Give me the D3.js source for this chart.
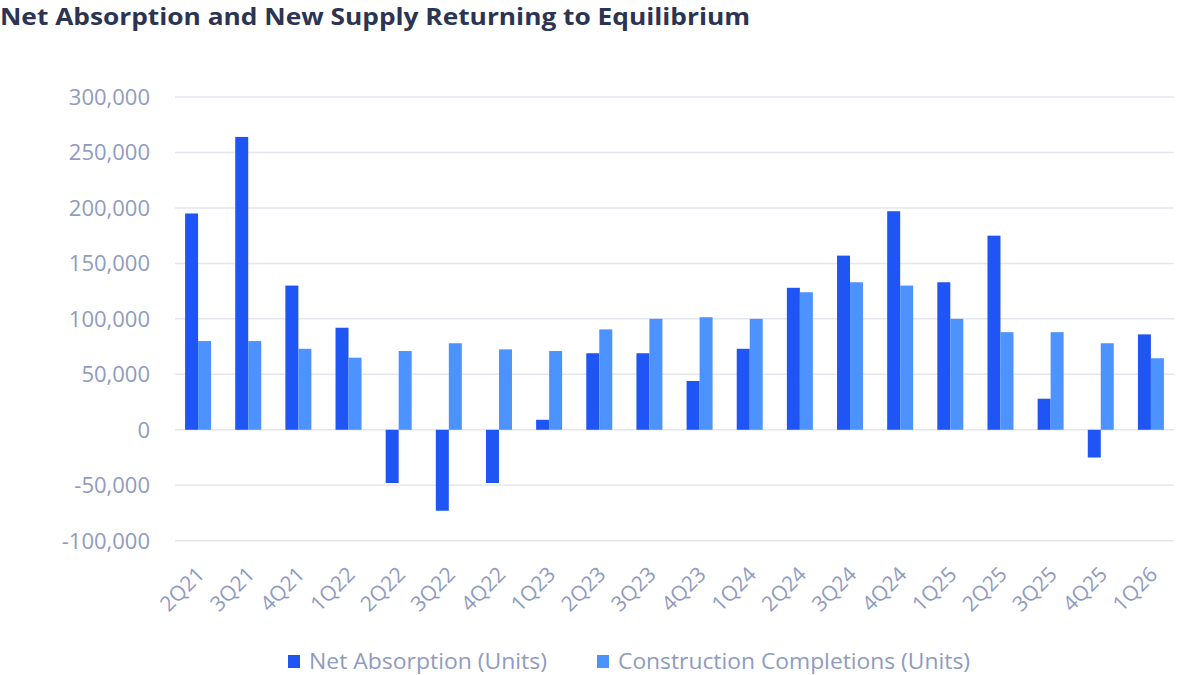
<!DOCTYPE html>
<html>
<head>
<meta charset="utf-8">
<script src="https://cdn.jsdelivr.net/npm/d3@7"></script>
<style>
  html, body { margin: 0; padding: 0; background: #ffffff; }
  svg { display: block; font-family: "Open Sans", sans-serif; }
</style>
</head>
<body>
<svg id="chart" width="1200" height="675"></svg>
<script>
const title = "Net Absorption and New Supply Returning to Equilibrium";
const categories = ["2Q21","3Q21","4Q21","1Q22","2Q22","3Q22","4Q22","1Q23","2Q23","3Q23","4Q23","1Q24","2Q24","3Q24","4Q24","1Q25","2Q25","3Q25","4Q25","1Q26"];
const netAbsorption = [195000, 264000, 130000, 92000, -48000, -73000, -48000, 9000, 69000, 69000, 44000, 73000, 128000, 157000, 197000, 133000, 175000, 28000, -25000, 86000];
const completions = [80000, 80000, 73000, 65000, 71000, 78000, 72500, 71000, 90500, 100000, 101500, 100000, 124000, 133000, 130000, 100000, 88000, 88000, 78000, 64500];
const seriesNames = ["Net Absorption (Units)", "Construction Completions (Units)"];
const yTicks = [-100000, -50000, 0, 50000, 100000, 150000, 200000, 250000, 300000];

const colors = ["#1f55f4", "#4d93ff"];
const textColor = "#8f9bbf";
const gridColor = "#e5e7ef";

const svg = d3.select("#chart");

// Title
svg.append("text")
  .attr("x", 0).attr("y", 25)
  .attr("font-size", 24).attr("font-weight", 700)
  .attr("fill", "#2b3452")
  .attr("textLength", 750).attr("lengthAdjust", "spacingAndGlyphs")
  .text(title);

const plot = { left: 175, right: 1174 };

const y = d3.scaleLinear().domain([-100000, 300000]).range([540.7, 97]);
const x = d3.scaleBand().domain(categories).range([173, 1176]).paddingInner(0).paddingOuter(0);
const barW = 13;

// Gridlines
svg.append("g").selectAll("line").data(yTicks).join("line")
  .attr("x1", plot.left).attr("x2", plot.right)
  .attr("y1", d => y(d)).attr("y2", d => y(d))
  .attr("stroke", gridColor).attr("stroke-width", 1.5);

// Y axis labels
const fmt = v => d3.format(",")(v).replace("\u2212", "-");
svg.append("g").selectAll("text").data(yTicks).join("text")
  .attr("x", 150).attr("y", d => y(d))
  .attr("dy", "0.36em")
  .attr("text-anchor", "end")
  .attr("font-size", 22)
  .attr("fill", textColor)
  .text(d => fmt(d));

// Bars
const groups = svg.append("g").selectAll("g").data(categories).join("g")
  .attr("transform", d => `translate(${x(d) + x.bandwidth() / 2},0)`);

groups.append("rect")
  .attr("x", -barW)
  .attr("width", barW)
  .attr("y", (d, i) => Math.min(y(netAbsorption[i]), y(0)))
  .attr("height", (d, i) => Math.abs(y(netAbsorption[i]) - y(0)))
  .attr("fill", colors[0]);

groups.append("rect")
  .attr("x", 0)
  .attr("width", barW)
  .attr("y", (d, i) => Math.min(y(completions[i]), y(0)))
  .attr("height", (d, i) => Math.abs(y(completions[i]) - y(0)))
  .attr("fill", colors[1]);

// X labels
svg.append("g").selectAll("text").data(categories).join("text")
  .attr("transform", d => `translate(${x(d) + x.bandwidth() / 2 - 3},${565}) rotate(-45)`)
  .attr("text-anchor", "end")
  .attr("dy", "0.72em")
  .attr("font-size", 21)
  .attr("fill", textColor)
  .text(d => d);

// Legend
const legend = svg.append("g");
const legendItems = [
  { name: seriesNames[0], color: colors[0], x: 288, len: 238 },
  { name: seriesNames[1], color: colors[1], x: 597, len: 352 }
];
legendItems.forEach(it => {
  legend.append("rect").attr("x", it.x).attr("y", 655).attr("width", 12).attr("height", 13).attr("fill", it.color);
  legend.append("text").attr("x", it.x + 21).attr("y", 669)
    .attr("font-size", 22).attr("fill", textColor)
    .attr("textLength", it.len).attr("lengthAdjust", "spacingAndGlyphs")
    .text(it.name);
});
</script>
</body>
</html>
